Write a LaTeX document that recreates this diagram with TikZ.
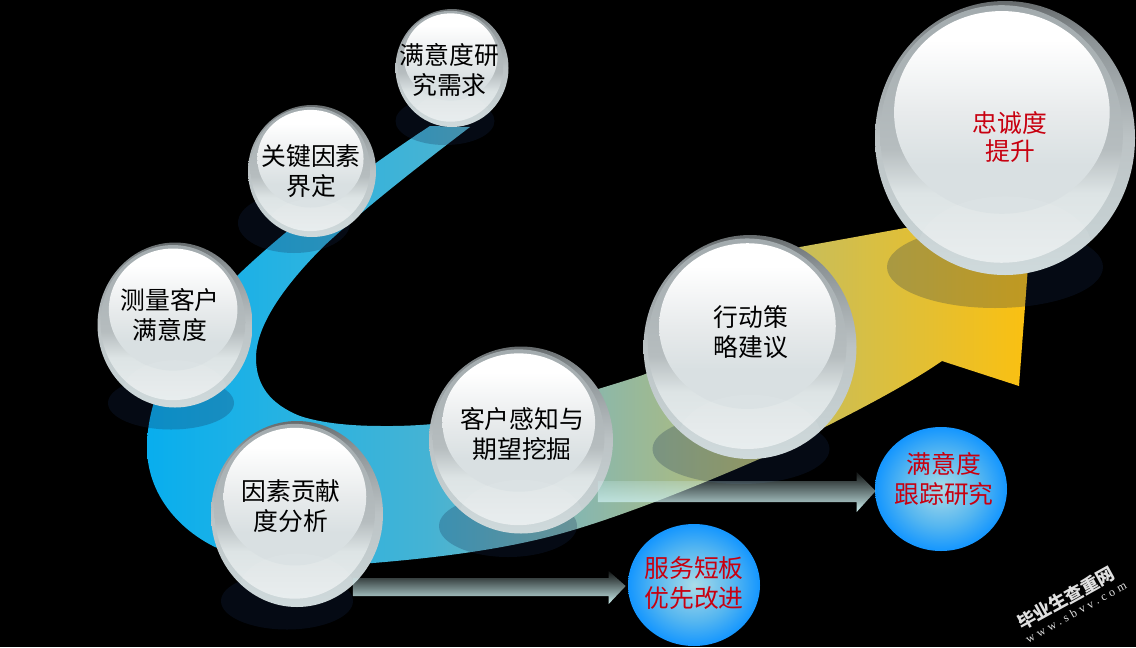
\documentclass[tikz,border=0pt]{standalone}
\usepackage{fontspec}
\newfontfamily\cjkfont{Noto Sans CJK SC}
\newfontfamily\addressfont[LetterSpace=30]{Liberation Serif}
\usetikzlibrary{calc}
\usetikzlibrary{shapes.geometric}
\usetikzlibrary{fadings}
\definecolor{ribbon blue}{HTML}{08AEEE}
\definecolor{ribbon sky}{HTML}{2BB3E0}
\definecolor{ribbon teal}{HTML}{45B3D4}
\definecolor{ribbon sage}{HTML}{8AB7AC}
\definecolor{ribbon olive}{HTML}{C8BE5A}
\definecolor{ribbon gold}{HTML}{FBC010}
\definecolor{rim low}{HTML}{CBD7D9}
\definecolor{rim mid}{HTML}{BCC3C5}
\definecolor{rim high}{HTML}{8C9396}
\definecolor{rim top}{HTML}{666B6D}
\definecolor{band low}{HTML}{E9EEEF}
\definecolor{band pale}{HTML}{DDE4E5}
\definecolor{band mid}{HTML}{B6BDBF}
\definecolor{band top}{HTML}{A2AAAD}
\definecolor{face low}{HTML}{D9E0E2}
\definecolor{face mid}{HTML}{E8EBEC}
\definecolor{glow core}{HTML}{ABDCE8}
\definecolor{glow mid}{HTML}{55B6F0}
\definecolor{glow edge}{HTML}{1496FF}
\definecolor{shadow navy}{HTML}{142850}
\definecolor{bar pale}{HTML}{CCEEEE}
\definecolor{label red}{HTML}{C80010}
% Colour runs of the ribbon and the glass balls (paths fit between 25bp and 75bp)
\pgfdeclarehorizontalshading{ribbon run}{100bp}{
    color(0bp)=(ribbon blue); color(25bp)=(ribbon blue);
    color(34bp)=(ribbon sky); color(41bp)=(ribbon teal);
    color(50bp)=(ribbon sage); color(62bp)=(ribbon olive);
    color(75bp)=(ribbon gold); color(100bp)=(ribbon gold)}
\pgfdeclareverticalshading{ball rim}{100bp}{
    color(0bp)=(rim low); color(25bp)=(rim low); color(50bp)=(rim mid);
    color(68bp)=(rim high); color(75bp)=(rim top); color(100bp)=(rim top)}
\pgfdeclareverticalshading{ball band}{100bp}{
    color(0bp)=(band low); color(25bp)=(band low); color(40bp)=(band pale);
    color(48bp)=(band mid); color(75bp)=(band top);
    color(100bp)=(band top)}
\pgfdeclareverticalshading{ball face}{100bp}{
    color(0bp)=(face low); color(37bp)=(face low); color(50bp)=(face mid);
    color(68bp)=(white); color(100bp)=(white)}
\pgfdeclareradialshading{blue glow}{\pgfpointorigin}{
    color(0bp)=(glow core); color(15bp)=(glow mid); color(25bp)=(glow edge);
    color(50bp)=(glow edge)}
\tikzfading[name=bar fade, top color=transparent!92, bottom color=transparent!0]
\tikzset{
    % Drop shadow under a ball, mostly see-through
    ball shadow/.style 2 args={
        ellipse, inner sep=0pt, fill=shadow navy, fill opacity=.25,
        minimum width=#1*.75pt, minimum height=#2*.75pt},
%
    % Glass ball: rim, then band, then the bright face and a low gloss
    ball/.style 2 args={
        ellipse, inner sep=0pt, shade, shading=ball rim,
        minimum width=#1*.75pt, minimum height=#2*.75pt,
        path picture={
            \shade[shading=ball band]
                ($(path picture bounding box.center)+(-#1*.01pt,#2*.011pt)$)
                ellipse [x radius=#1*.35pt, y radius=#2*.3525pt];
            \shade[shading=ball face]
                ($(path picture bounding box.center)+(-#1*.009pt,#2*.07pt)$)
                ellipse [x radius=#1*.311pt, y radius=#2*.2775pt];
            \fill[white, opacity=.08]
                ($(path picture bounding box.center)+(0pt,-#2*.3pt)$)
                ellipse [x radius=#1*.25pt, y radius=#2*.14pt];
        }},
%
    % Small blue discs at the arrow ends
    blue ball/.style 2 args={
        ellipse, inner sep=0pt, shade, shading=blue glow,
        minimum width=#1*.75pt, minimum height=#2*.75pt},
%
    ball text/.style={font=\cjkfont\fontsize{18.6}{22.5}\selectfont,
        align=center, inner sep=0pt, text=black},
    red text/.style={ball text, text=label red},
    flow arrow/.style={fill=bar pale, path fading=bar fade}}

\begin{document}
\begin{tikzpicture}[x=.75pt, y=-.75pt]
\useasboundingbox (0,0) rectangle (1136,647);
\fill[black] (0,0) rectangle (1136,647);

% The ribbon, from the top ball round to the gold arrow head
\shade[shading=ribbon run]
    (430,126) .. controls (370,165) and (290,225) .. (238,275)
    .. controls (190,322) and (147,385) .. (147,447)
    .. controls (147,495) and (180,530) .. (215,547)
    .. controls (260,565) and (320,567) .. (373,563)
    .. controls (433,558) and (503,550) .. (563,533)
    .. controls (623,516) and (700,485) .. (764,457)
    .. controls (830,425) and (900,390) .. (942,361)
    -- (1019,386) -- (1030,240) -- (905,228) -- (800,247)
    .. controls (720,285) and (700,355) .. (640,376)
    .. controls (570,398) and (480,427) .. (383,426)
    .. controls (345,426) and (318,422) .. (300,416)
    .. controls (270,404) and (256,385) .. (256,358)
    .. controls (256,325) and (285,285) .. (323,247)
    .. controls (360,212) and (420,165) .. (470,127)
    -- cycle;

% Shadows go on the ribbon, balls on the shadows
\node[ball shadow={99}{48}] (research shadow) at (445,121) {};
\node[ball shadow={112}{60}] (key shadow) at (294,223) {};
\node[ball shadow={126}{53}] (measure shadow) at (171,403) {};
\node[ball shadow={132}{57}] (factor shadow) at (287,601) {};
\node[ball shadow={138}{62}] (mining shadow) at (508,526) {};
\node[ball shadow={177}{70}] (action shadow) at (741,449) {};
\node[ball shadow={216}{82}] (loyalty shadow) at (995,267) {};

\node[ball={113}{118}] (research) at (452,68) {};
\node[ball={128}{132}] (key) at (312,171) {};
\node[ball={155}{165}] (measure) at (175,325) {};
\node[ball={172}{186}] (factor) at (297,514) {};
\node[ball={184}{187}] (mining) at (521,440) {};
\node[ball={213}{224}] (action) at (750,347) {};
\node[ball={260}{274}] (loyalty) at (1005,138) {};

\node[ball text] (research text) at (449.5,70) {满意度研\\究需求};
\node[ball text] (key text) at (311,171) {关键因素\\界定};
\node[ball text] (measure text) at (170,315) {测量客户\\满意度};
\node[ball text] (factor text) at (291,506) {因素贡献\\度分析};
\node[ball text] (mining text) at (522,434) {客户感知与\\期望挖掘};
\node[ball text] (action text) at (751,332) {行动策\\略建议};
\node[red text] (loyalty text) at (1010,137) {忠诚度\\[-2pt]提升};

% The two discs and the bars that lead to them
\node[blue ball={132}{122}] (service) at (694,585) {};
\node[red text] (service text) at (694,583) {服务短板\\优先改进};
\node[blue ball={132}{124}] (tracking) at (941,489) {};
\node[red text] (tracking text) at (944,479) {满意度\\跟踪研究};

\coordinate (factor out) at (353,587);
\coordinate (mining out) at (598,491);

\fill[flow arrow] ($(factor out)+(0,-9)$) -- ($(service.west)+(-19,-7)$)
    -- ($(service.west)+(-19,-14)$) -- ($(service.west)+(-2,1)$)
    -- ($(service.west)+(-19,19)$) -- ($(service.west)+(-19,11)$)
    -- ($(factor out)+(0,9)$) -- cycle;

\fill[flow arrow] ($(mining out)+(0,-10)$) -- ($(tracking.west)+(-18,-8)$)
    -- ($(tracking.west)+(-18,-17)$) -- ($(tracking.west)+(1,2)$)
    -- ($(tracking.west)+(-18,23)$) -- ($(tracking.west)+(-18,13)$)
    -- ($(mining out)+(0,11)$) -- cycle;

% Site mark in the corner
\node[font=\cjkfont\bfseries\fontsize{13.5}{14}\selectfont, text=black!12!white,
    rotate=29, inner sep=0pt] (site mark) at (1066,598) {毕业生查重网};
\node[font=\addressfont\fontsize{9}{9}\selectfont, text=black!12!white,
    rotate=29, inner sep=0pt] (site address) at (1076,612) {www.sbvv.com};

\end{tikzpicture}
\end{document}
